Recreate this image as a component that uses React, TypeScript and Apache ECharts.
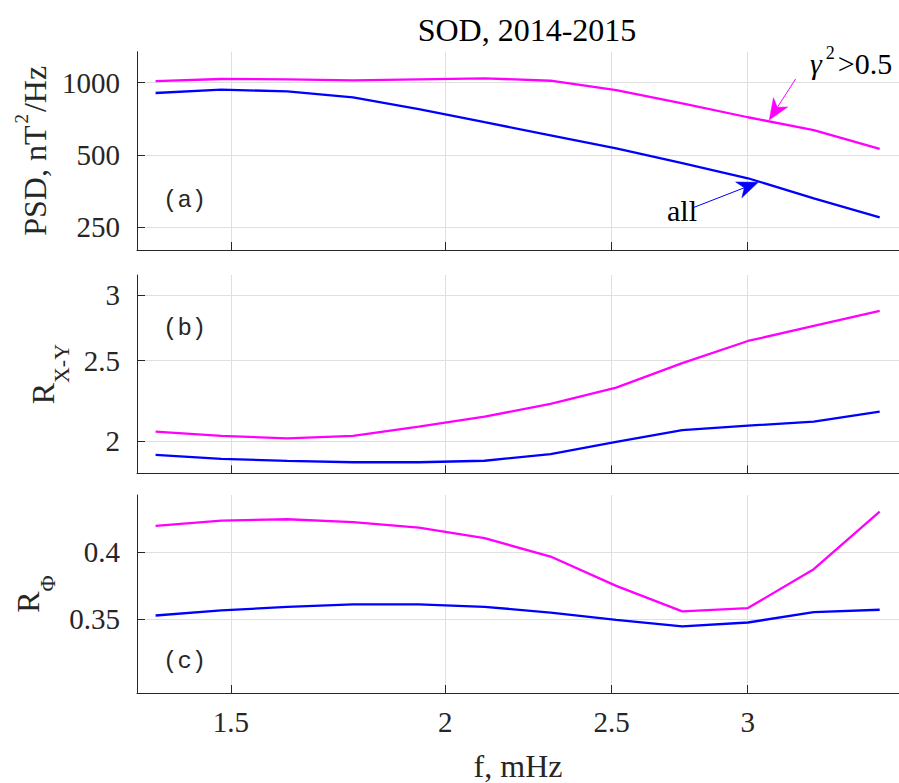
import { useEffect, useRef } from "react";
import * as echarts from "echarts";

// ---- data ----
const freq = [1.356, 1.481, 1.618, 1.767, 1.93, 2.108, 2.303, 2.515, 2.748, 3.001, 3.278, 3.581];

const psdAll = [906, 935, 921, 869, 777, 685, 604, 533, 462, 400, 330, 275];
const psdCoh = [1016, 1036, 1033, 1023, 1033, 1043, 1019, 932, 821, 718, 635, 530];

const rxyAll = [1.924, 1.903, 1.892, 1.885, 1.885, 1.893, 1.928, 1.995, 2.061, 2.087, 2.11, 2.17];
const rxyCoh = [2.053, 2.028, 2.015, 2.028, 2.082, 2.14, 2.217, 2.32, 2.483, 2.641, 2.754, 2.871];

const rphiAll = [0.3523, 0.3559, 0.3585, 0.3602, 0.3602, 0.3585, 0.3544, 0.3493, 0.3447, 0.3474, 0.3547, 0.3564];
const rphiCoh = [0.4216, 0.4261, 0.4273, 0.4248, 0.4202, 0.4114, 0.3965, 0.3739, 0.3552, 0.3576, 0.3866, 0.4339];

const xTicks = [1.5, 2, 2.5, 3];
const psdTicks = [250, 500, 1000];
const rxyTicks = [2, 2.5, 3];
const rphiTicks = [0.35, 0.4];

const xRange = [1.3226, 3.675];
const psdRange = [201.1, 1346];
const rxyRange = [1.828, 3.173];
const rphiRange = [0.3016, 0.4486];

// annotation arrows (data coordinates of panel a: tail, tip)
const allArrow = [[2.792, 302.8], [3.043, 384.8]];
const cohArrow = [[3.199, 1036], [3.088, 699.4]];

const FONT = "Liberation Serif";
const MONO = "Liberation Mono";
const AX = "#262626";
const GRIDC = "#dfdfdf";
const MAG = "#ff00ff";
const BLUE = "#0000ff";

const fmt = (v: number) => String(+Number(v).toPrecision(6));

export default function App() {
  const ref = useRef<HTMLDivElement>(null);
  useEffect(() => {
    if (!ref.current) return;
    const chart = echarts.init(ref.current, null, { renderer: "svg" });

    const tops = [51.7, 275, 495];
    const grid = tops.map((t) => ({ left: 137, top: t, width: 770, height: 198.3 }));

    const labelStyle = {
      fontFamily: FONT,
      fontSize: 29,
      color: AX,
    };

    const xAxis = [0, 1, 2].map((i) => ({
      type: "log",
      logBase: 10,
      gridIndex: i,
      min: xRange[0],
      max: xRange[1],
      axisLine: { show: true, onZero: false, lineStyle: { color: AX, width: 1 } },
      axisTick: { show: true, inside: true, length: 8, customValues: xTicks, lineStyle: { color: AX, width: 1 } },
      axisLabel: {
        show: i === 2,
        customValues: xTicks,
        formatter: fmt,
        ...labelStyle,
        margin: 14,
      },
      splitLine: { show: true, lineStyle: { color: GRIDC, width: 1 } },
      minorTick: { show: false },
      minorSplitLine: { show: false },
      name: i === 2 ? "f, mHz" : "",
      nameLocation: "middle",
      nameGap: 57,
      nameTextStyle: { fontFamily: FONT, fontSize: 32, color: AX },
    }));

    const mainRich = (extraTop: number) => ({
      n: { fontFamily: FONT, fontSize: 32, lineHeight: 32, color: AX, verticalAlign: "top", padding: [extraTop, 0, 0, 0] },
      sup: { fontFamily: FONT, fontSize: 19, lineHeight: 19, color: AX, verticalAlign: "top", padding: [0, 2, 0, 2] },
      sub: { fontFamily: FONT, fontSize: 22, lineHeight: 22, color: AX, verticalAlign: "top", padding: [24, 0, 0, 0] },
    });

    const yDefs = [
      { range: psdRange, ticks: psdTicks, name: "{n|PSD, nT}{sup|2}{n|/Hz}", gap: 87, rich: mainRich(7.5) },
      { range: rxyRange, ticks: rxyTicks, name: "{n|R}{sub|X-Y}", gap: 63, rich: mainRich(0) },
      { range: rphiRange, ticks: rphiTicks, name: "{n|R}{sub|Φ}", gap: 78, rich: mainRich(0) },
    ];

    const yAxis = yDefs.map((d, i) => ({
      type: "log",
      logBase: 10,
      gridIndex: i,
      min: d.range[0],
      max: d.range[1],
      axisLine: { show: true, onZero: false, lineStyle: { color: AX, width: 1 } },
      axisTick: { show: true, inside: true, length: 8, customValues: d.ticks, lineStyle: { color: AX, width: 1 } },
      axisLabel: {
        show: true,
        customValues: d.ticks,
        formatter: fmt,
        ...labelStyle,
        margin: 17,
      },
      splitLine: { show: true, lineStyle: { color: GRIDC, width: 1 } },
      minorTick: { show: false },
      minorSplitLine: { show: false },
      name: d.name,
      nameLocation: "middle",
      nameRotate: 90,
      nameGap: d.gap,
      nameTextStyle: { fontFamily: FONT, fontSize: 32, color: AX, rich: d.rich },
    }));

    const mk = (xs: number[], ys: number[]) => xs.map((f, i) => [f, ys[i]]);
    const line = (idx: number, ys: number[], color: string) => ({
      type: "line",
      xAxisIndex: idx,
      yAxisIndex: idx,
      data: mk(freq, ys),
      symbol: "none",
      showSymbol: false,
      lineStyle: { color, width: 2.3 },
      itemStyle: { color },
      emphasis: { disabled: true },
      silent: true,
      z: 3,
    });

    const option: any = {
      animation: false,
      backgroundColor: "#ffffff",
      textStyle: { fontFamily: FONT },
      title: {
        text: "SOD, 2014-2015",
        left: 522,
        top: 9,
        textAlign: "center",
        textStyle: { fontFamily: FONT, fontSize: 32, fontWeight: "normal", color: "#000000" },
      },
      grid,
      xAxis,
      yAxis,
      series: [
        line(0, psdAll, BLUE),
        line(0, psdCoh, MAG),
        line(1, rxyAll, BLUE),
        line(1, rxyCoh, MAG),
        line(2, rphiAll, BLUE),
        line(2, rphiCoh, MAG),
      ],
    };

    chart.setOption(option);

    // arrows computed through the chart's own coordinate conversion
    const arrowEls = (pts: number[][], color: string) => {
      const a = chart.convertToPixel({ gridIndex: 0 }, pts[0]) as number[];
      const b = chart.convertToPixel({ gridIndex: 0 }, pts[1]) as number[];
      const dx = b[0] - a[0];
      const dy = b[1] - a[1];
      const len = Math.hypot(dx, dy) || 1;
      const ux = dx / len;
      const uy = dy / len;
      const nx = -uy;
      const ny = ux;
      const L = 21;
      const W = 8.5;
      const notch = 6;
      const back = [b[0] - L * ux, b[1] - L * uy];
      const mid = [b[0] - (L - notch) * ux, b[1] - (L - notch) * uy];
      return [
        {
          type: "line",
          silent: true,
          z: 10,
          shape: { x1: a[0], y1: a[1], x2: mid[0], y2: mid[1] },
          style: { stroke: color, lineWidth: 1 },
        },
        {
          type: "polygon",
          silent: true,
          z: 10,
          shape: {
            points: [
              [b[0], b[1]],
              [back[0] + W * nx, back[1] + W * ny],
              mid,
              [back[0] - W * nx, back[1] - W * ny],
            ],
          },
          style: { fill: color, stroke: color, lineWidth: 0.5 },
        },
      ];
    };

    const tok = (size: number, extra: any = {}) => ({
      fontFamily: FONT,
      fontSize: size,
      lineHeight: size,
      fill: "#000000",
      verticalAlign: "top",
      ...extra,
    });

    chart.setOption({
      graphic: [
        { type: "text", left: 163, top: 188, style: { text: "(a)", fontFamily: MONO, fontSize: 24, fill: AX } },
        { type: "text", left: 163, top: 316, style: { text: "(b)", fontFamily: MONO, fontSize: 24, fill: AX } },
        { type: "text", left: 163, top: 649, style: { text: "(c)", fontFamily: MONO, fontSize: 24, fill: AX } },
        { type: "text", left: 667, top: 195, style: { text: "all", fontFamily: FONT, fontSize: 30, fill: "#000000" } },
        {
          type: "text",
          left: 810,
          top: 44,
          style: {
            text: "{g|γ}{s|2}{t|>0.5}",
            fontFamily: FONT,
            fontSize: 30,
            fill: "#000000",
            rich: {
              g: tok(30, { fontStyle: "italic", padding: [4, 4, 0, 0] }),
              s: tok(18, { padding: [0, 3, 0, 0] }),
              t: tok(30, { padding: [4, 0, 0, 0] }),
            },
          },
        },
        ...arrowEls(allArrow, BLUE),
        ...arrowEls(cohArrow, MAG),
      ],
    });

    return () => chart.dispose();
  }, []);

  return <div ref={ref} style={{ position: "fixed", left: 0, top: 0, width: 899, height: 783 }} />;
}
